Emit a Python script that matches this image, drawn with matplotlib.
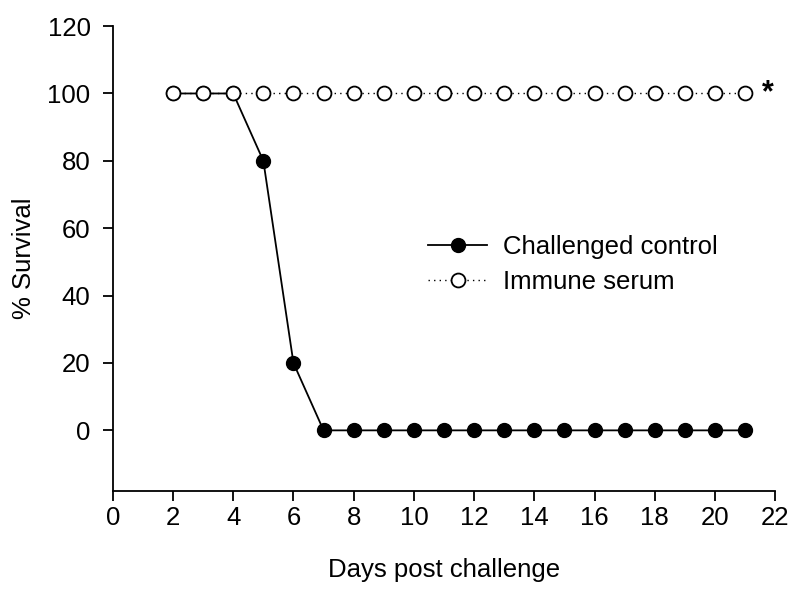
import matplotlib.pyplot as plt

plt.rcParams['font.family'] = ['Liberation Sans', 'DejaVu Sans']

days = list(range(2, 22))
control = [100, 100, 100, 80, 20, 0, 0, 0, 0, 0, 0, 0, 0, 0, 0, 0, 0, 0, 0, 0]
immune = [100] * 20

fig = plt.figure(figsize=(8, 5.93), dpi=100)
ax = fig.add_axes([0.141, 0.172, 0.828, 0.784])

ax.plot(days, control, color='black', linewidth=1.3, marker='o', markersize=10,
        markerfacecolor='black', markeredgecolor='black', label='Challenged control', zorder=2)
ax.plot(days, immune, color='black', linewidth=1.0, linestyle=(0, (1, 3)), marker='o',
        markersize=10, markerfacecolor='white', markeredgecolor='black', markeredgewidth=1.3,
        label='Immune serum', zorder=3)

ax.text(21.55, 100, '*', fontsize=22, fontweight='bold', va='center', ha='left')

ax.set_xlim(0, 22)
ax.set_ylim(-18, 120)
ax.set_xticks(range(0, 23, 2))
ax.set_yticks(range(0, 121, 20))
ax.spines['top'].set_visible(False)
ax.spines['right'].set_visible(False)
for s in ['left', 'bottom']:
    ax.spines[s].set_linewidth(1.3)
ax.tick_params(labelsize=18.5, width=1.3, length=7)
ax.tick_params(axis='x', pad=4)
ax.tick_params(axis='y', pad=9)
ax.set_xlabel('Days post challenge', fontsize=18.5, labelpad=20)
ax.set_ylabel('% Survival', fontsize=18.5, labelpad=8)

ax.legend(loc='center left', bbox_to_anchor=(0.476, 0.487), frameon=False, fontsize=18.5,
          borderpad=0, borderaxespad=0, handlelength=2.3, handletextpad=0.6,
          labelspacing=0.45)

fig.savefig('out.png', dpi=100)
